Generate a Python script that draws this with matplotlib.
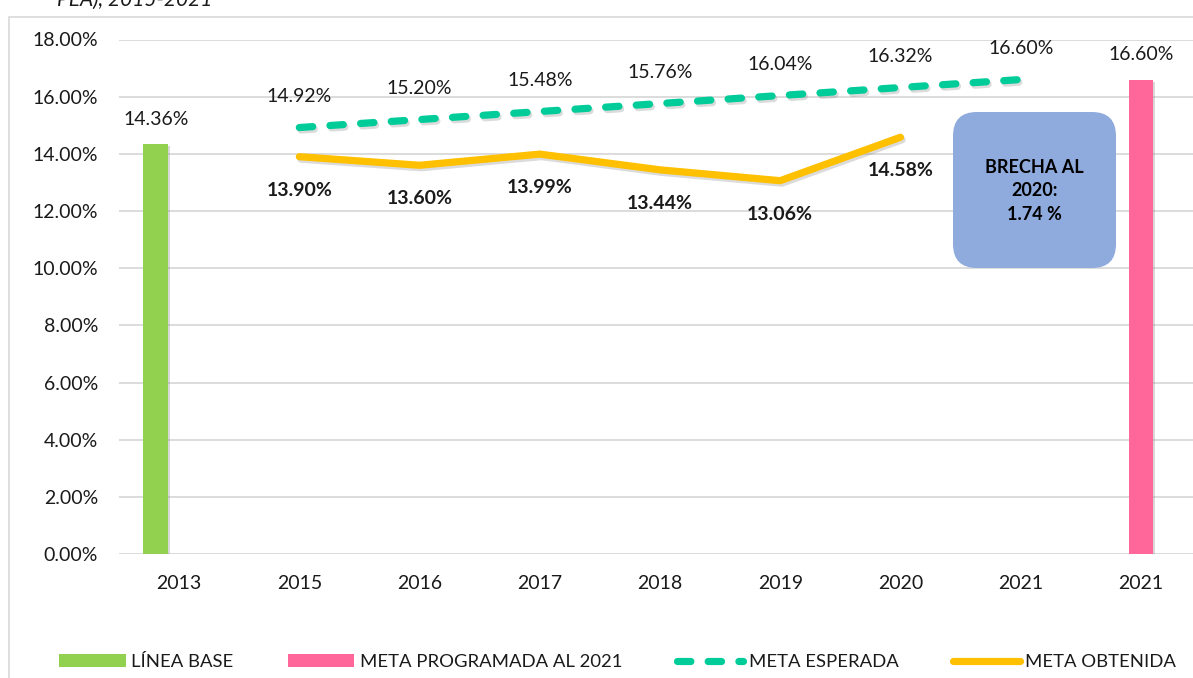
import matplotlib
matplotlib.use("Agg")
import matplotlib.pyplot as plt
import matplotlib.patheffects as pe
from matplotlib.patches import FancyBboxPatch, Rectangle, Patch
from matplotlib.lines import Line2D
from matplotlib.ticker import FuncFormatter
import numpy as np

# ---------------- data ----------------
categories = ['2013', '2015', '2016', '2017', '2018', '2019', '2020', '2021', '2021']
linea_base = [14.36, None, None, None, None, None, None, None, None]
meta_programada = [None, None, None, None, None, None, None, None, 16.60]
meta_esperada = [None, 14.92, 15.20, 15.48, 15.76, 16.04, 16.32, 16.60, None]
meta_obtenida = [None, 13.90, 13.60, 13.99, 13.44, 13.06, 14.58, None, None]
y_ticks = [0, 2, 4, 6, 8, 10, 12, 14, 16, 18]
legend_labels = ['LÍNEA BASE', 'META PROGRAMADA AL 2021', 'META ESPERADA', 'META OBTENIDA']
box_text = 'BRECHA AL\n2020:\n1.74 %'
title_text = 'PEA), 2015-2021'

# ---------------- style ----------------
plt.rcParams['font.family'] = ['Lato', 'DejaVu Sans']
C_GREEN_BAR = '#92D050'
C_PINK = '#FF6699'
C_TEAL = '#00CC99'
C_YELLOW = '#FFC000'
C_BOX = '#8FAADC'
C_GRID = '#D9D9D9'
C_TEXT = '#1A1A1A'
FS = 14

W, H = 1193, 678
fig = plt.figure(figsize=(W / 100, H / 100), dpi=100)
fig.patch.set_facecolor('white')

# outer chart border
fig.patches.append(Rectangle((9 / W, -0.2), 2.0, (H - 17) / H + 0.2,
                             transform=fig.transFigure, fill=False,
                             edgecolor=C_GRID, lw=1.2))
fig.text(57 / W, 1 - 6 / H, title_text, fontsize=15, style='italic',
         ha='left', va='baseline', color=C_TEXT)

left, right = 119, 1201
bottom, top = 554, 39.5
ax = fig.add_axes([left / W, 1 - bottom / H, (right - left) / W, (bottom - top) / H])
ax.set_facecolor('none')

x = np.arange(len(categories))
ax.set_xlim(-0.5, len(categories) - 0.5)
ax.set_ylim(0, 18)

shadow = [pe.SimpleLineShadow(offset=(1.2, -1.8), shadow_color='gray', alpha=0.28), pe.Normal()]
bar_shadow = [pe.SimplePatchShadow(offset=(1.5, -1.5), shadow_rgbFace='gray', alpha=0.3), pe.Normal()]

# bars
bw = 0.205
lb = [np.nan if v is None else v for v in linea_base]
mp = [np.nan if v is None else v for v in meta_programada]
bars1 = ax.bar(x - 0.195, lb, width=bw, color=C_GREEN_BAR, zorder=3)
bars2 = ax.bar(x, mp, width=bw, color=C_PINK, zorder=3)
for b in list(bars1) + list(bars2):
    b.set_path_effects(bar_shadow)

# lines
me = np.array([np.nan if v is None else v for v in meta_esperada])
mo = np.array([np.nan if v is None else v for v in meta_obtenida])
lw = 5.2
l1, = ax.plot(x, me, color=C_TEAL, lw=lw, dashes=(1.85, 2.4),
              dash_capstyle='round', solid_capstyle='round', zorder=4,
              path_effects=shadow)
l2, = ax.plot(x, mo, color=C_YELLOW, lw=lw, solid_capstyle='round',
              solid_joinstyle='round', zorder=4, path_effects=shadow)

# data labels
def fmt(v):
    return f'{v:.2f}%'

for xi, v in zip(x, linea_base):
    if v is not None:
        ax.annotate(fmt(v), (xi - 0.195, v), xytext=(0, 17), textcoords='offset points',
                    ha='center', va='center', fontsize=FS, color=C_TEXT)
for xi, v in zip(x, meta_programada):
    if v is not None:
        ax.annotate(fmt(v), (xi, v), xytext=(0, 18), textcoords='offset points',
                    ha='center', va='center', fontsize=FS, color=C_TEXT)
for xi, v in zip(x, meta_esperada):
    if v is not None:
        ax.annotate(fmt(v), (xi, v), xytext=(0, 22.5), textcoords='offset points',
                    ha='center', va='center', fontsize=FS, color=C_TEXT)
for xi, v in zip(x, meta_obtenida):
    if v is not None:
        ax.annotate(fmt(v), (xi, v), xytext=(0, -24), textcoords='offset points',
                    ha='center', va='center', fontsize=FS, color=C_TEXT,
                    fontweight='bold')

# axes styling
ax.set_yticks(y_ticks)
ax.yaxis.set_major_formatter(FuncFormatter(lambda v, p: f'{v:.2f}%'))
ax.set_xticks(x)
ax.set_xticklabels(categories)
ax.grid(axis='y', color=C_GRID, lw=1.3, zorder=0)
ax.set_axisbelow(True)
for s in ax.spines.values():
    s.set_visible(False)
ax.tick_params(axis='both', length=0, labelsize=FS, colors=C_TEXT)
ax.tick_params(axis='y', pad=15)
ax.tick_params(axis='x', pad=15)

# brecha box (axes fraction coordinates)
aw, ah = right - left, bottom - top
bx0 = (953 - left) / aw
bx1 = (1116 - left) / aw
by0 = (bottom - 268) / ah
by1 = (bottom - 112) / ah
r = 24 / aw
box = FancyBboxPatch((bx0 + r, by0 + r * aw / ah), (bx1 - bx0) - 2 * r, (by1 - by0) - 2 * r * aw / ah,
                     boxstyle=f'round,pad={r},rounding_size={r}',
                     mutation_aspect=aw / ah, transform=ax.transAxes,
                     facecolor=C_BOX, edgecolor='none', zorder=5, clip_on=False)
ax.add_patch(box)
ax.text((bx0 + bx1) / 2, (bottom - 191) / ah, box_text, transform=ax.transAxes,
        ha='center', va='center', fontsize=13, fontweight='bold', color='black',
        linespacing=1.45, zorder=6)

# legend
handles = [
    Patch(facecolor=C_GREEN_BAR, edgecolor='none'),
    Patch(facecolor=C_PINK, edgecolor='none'),
    Line2D([0], [0], color=C_TEAL, lw=lw, dashes=(1.85, 2.4), dash_capstyle='round'),
    Line2D([0], [0], color=C_YELLOW, lw=lw, solid_capstyle='round'),
]
LFS = 13.3
leg = fig.legend(handles, legend_labels, loc='center left',
                 bbox_to_anchor=(59 / W, (H - 662) / H), ncol=4, frameon=False,
                 fontsize=LFS, handlelength=3.6, handleheight=0.7, handletextpad=0.3,
                 columnspacing=2.95, borderaxespad=0, borderpad=0)
for t in leg.get_texts():
    t.set_color(C_TEXT)

fig.savefig('out.png', dpi=100)
